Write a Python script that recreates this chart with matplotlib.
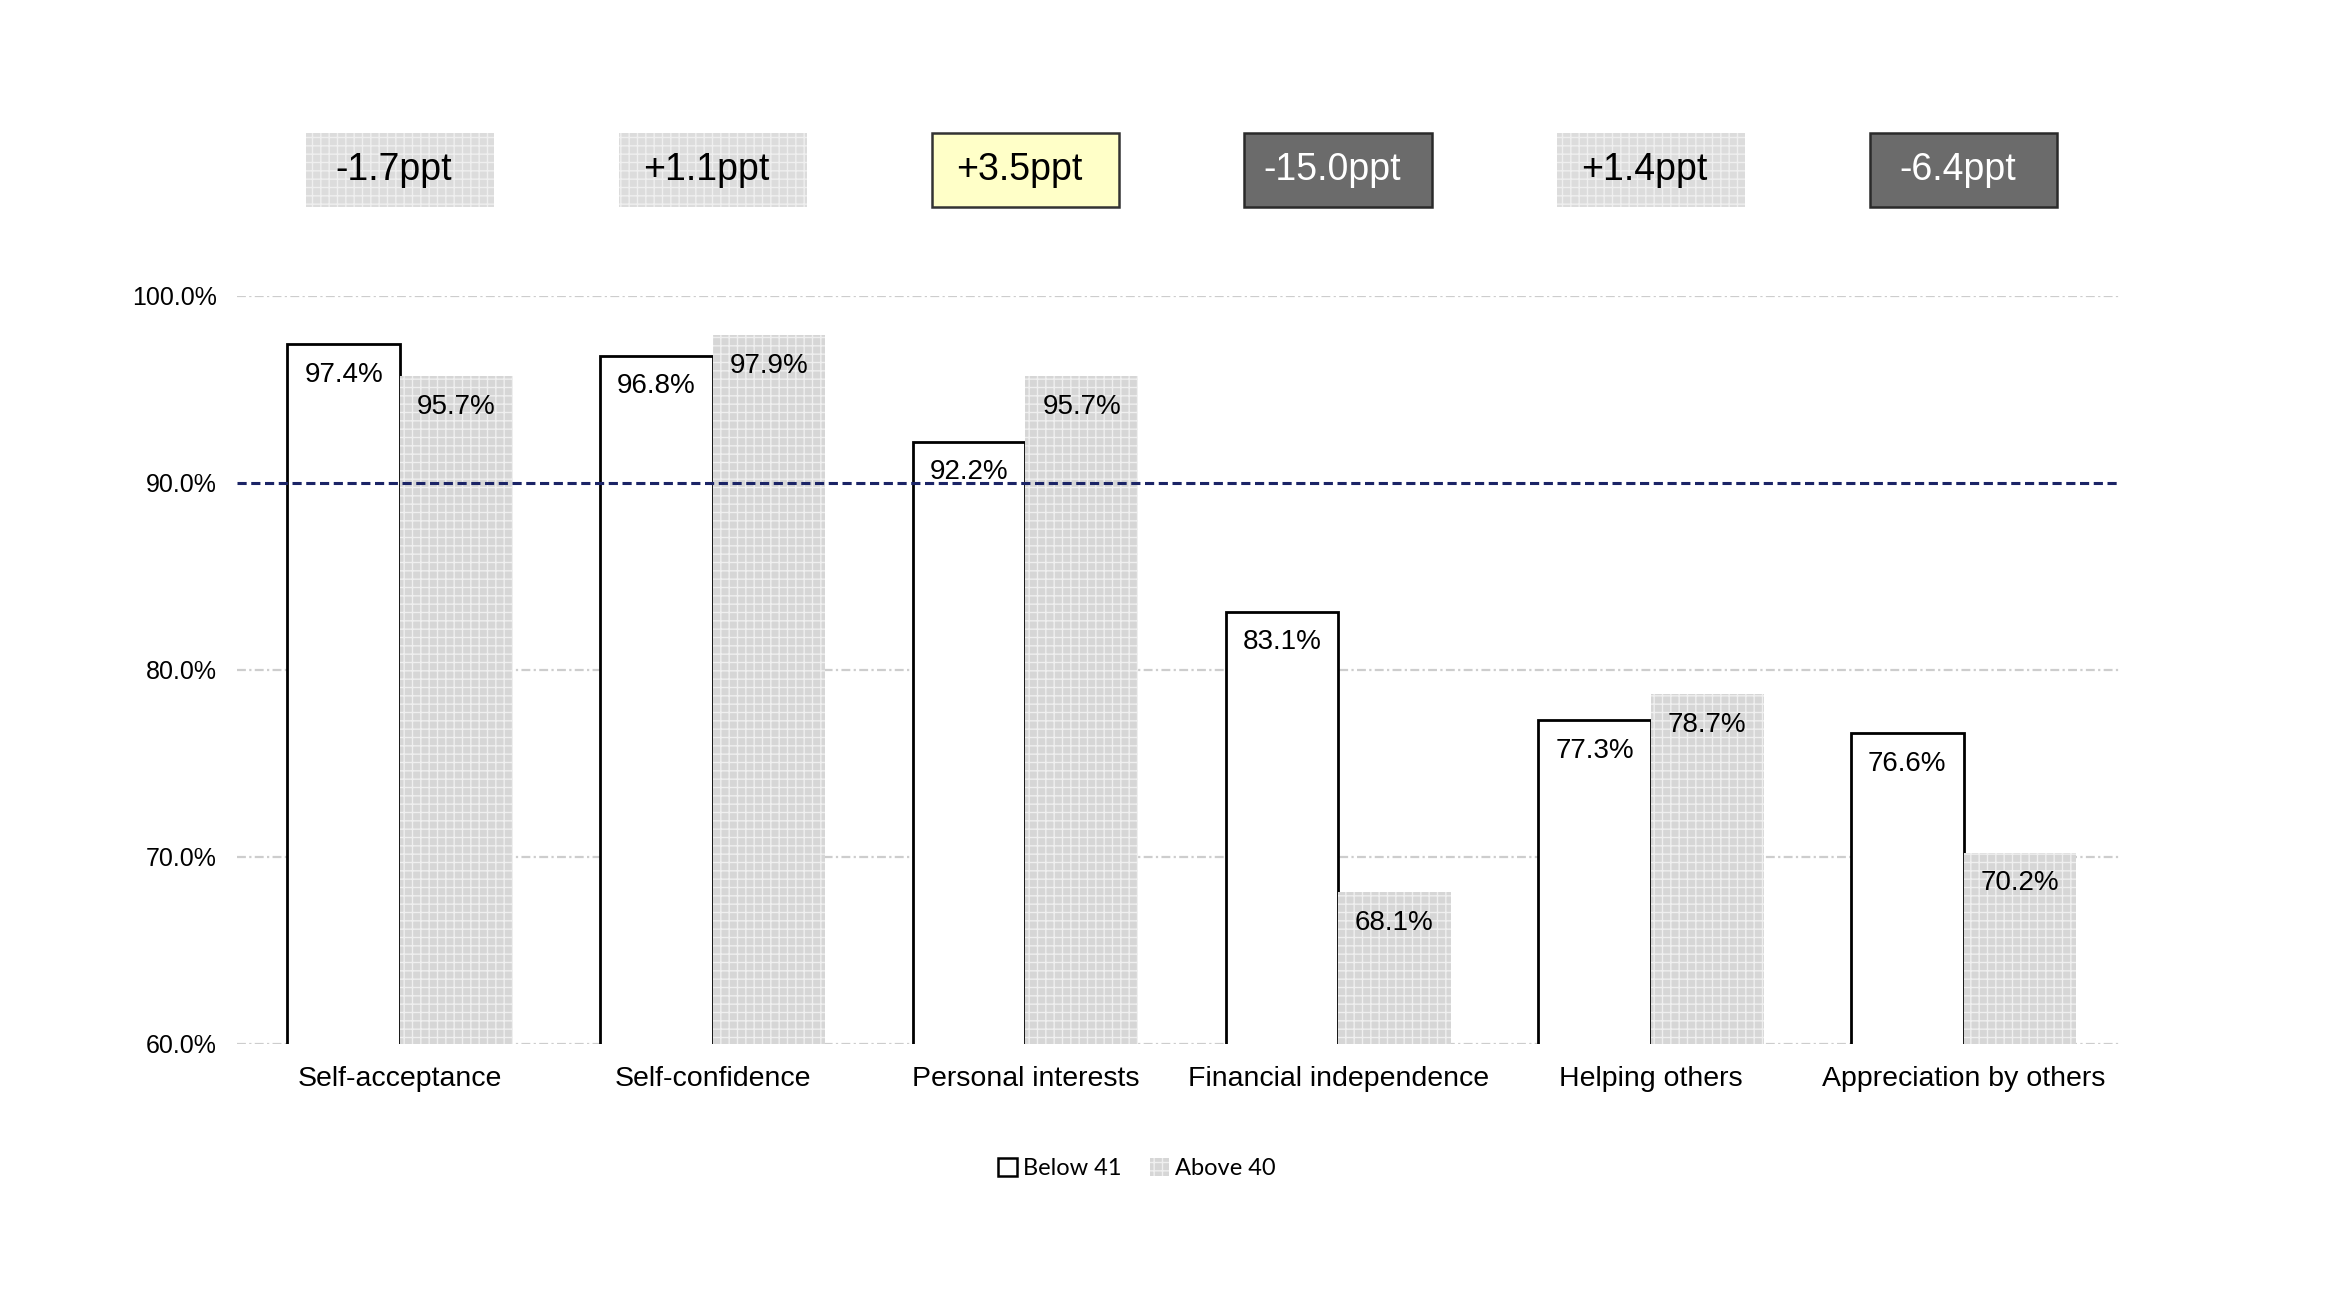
import matplotlib
matplotlib.use("Agg")
import matplotlib.pyplot as plt
from matplotlib.patches import Rectangle, Patch
import matplotlib.transforms as mtransforms
import numpy as np

categories = ["Self-acceptance", "Self-confidence", "Personal interests",
              "Financial independence", "Helping others", "Appreciation by others"]
below_41 = [97.4, 96.8, 92.2, 83.1, 77.3, 76.6]
above_40 = [95.7, 97.9, 95.7, 68.1, 78.7, 70.2]
diff_labels = ["-1.7ppt", "+1.1ppt", "+3.5ppt", "-15.0ppt", "+1.4ppt", "-6.4ppt"]
diff_styles = ["light", "light", "yellow", "dark", "light", "dark"]
yticks = [60, 70, 80, 90, 100]
target_line = 90.0

plt.rcParams['font.family'] = ['Liberation Sans', 'DejaVu Sans']
plt.rcParams['hatch.linewidth'] = 1.0

fig = plt.figure(figsize=(23.32, 12.94), dpi=100)
ax = fig.add_axes([0.1018, 0.1935, 0.8073, 0.578])

x = np.arange(len(categories))
w = 0.36
gray = '#d6d6d6'
hatch_col = '#efefef'

ax.bar(x - w/2, below_41, width=w, color='white', edgecolor='black',
       linewidth=2.0, zorder=3)
ax.bar(x + w/2, above_40, width=w, color=gray, edgecolor=hatch_col,
       hatch='++', linewidth=0, zorder=3)

for xi, v in zip(x - w/2, below_41):
    ax.annotate(f"{v:.1f}%", (xi, v), xytext=(0, -22), textcoords='offset points',
                ha='center', va='center', fontsize=20, zorder=5)
for xi, v in zip(x + w/2, above_40):
    ax.annotate(f"{v:.1f}%", (xi, v), xytext=(0, -22), textcoords='offset points',
                ha='center', va='center', fontsize=20, zorder=5)

ax.set_xlim(-0.52, 5.5)
ax.set_ylim(60, 100)
ax.set_yticks(yticks)
ax.set_yticklabels([f"{t:.1f}%" for t in yticks], fontsize=18)
ax.set_xticks(x)
ax.set_xticklabels(categories, fontsize=20.5)
ax.tick_params(axis='both', length=0)
ax.tick_params(axis='y', pad=15)
ax.tick_params(axis='x', pad=16)
for s in ax.spines.values():
    s.set_visible(False)

for t in yticks:
    if t != target_line:
        ax.axhline(t, color='#cdcdcd', linewidth=1.6, linestyle=(0, (4, 1.5, 1, 1.5)),
                   zorder=1)
ax.axhline(target_line, color='#1b2466', linewidth=2.2, linestyle=(0, (3, 1.5)),
           zorder=4)

trans = mtransforms.blended_transform_factory(ax.transData, ax.transAxes)
bw, bh = 0.6, 0.099
by = 1.119
for xi, lab, st in zip(x, diff_labels, diff_styles):
    if st == 'light':
        rect = Rectangle((xi - bw/2, by), bw, bh, transform=trans, clip_on=False,
                         facecolor='#dcdcdc', edgecolor=hatch_col, hatch='++',
                         linewidth=0)
        tc = 'black'
    elif st == 'yellow':
        rect = Rectangle((xi - bw/2, by), bw, bh, transform=trans, clip_on=False,
                         facecolor='#ffffc8', edgecolor='#333333', linewidth=1.8)
        tc = 'black'
    else:
        rect = Rectangle((xi - bw/2, by), bw, bh, transform=trans, clip_on=False,
                         facecolor='#6b6b6b', edgecolor='#2a2a2a', linewidth=1.8)
        tc = 'white'
    ax.add_patch(rect)
    ax.text(xi - 0.02, by + bh/2, lab, transform=trans, ha='center', va='center',
            fontsize=27, color=tc, clip_on=False)

handles = [Patch(facecolor='white', edgecolor='black', linewidth=1.8, label='Below 41'),
           Patch(facecolor=gray, edgecolor=hatch_col, hatch='++', linewidth=0,
                 label='Above 40')]
fig.legend(handles=handles, loc='center', bbox_to_anchor=(0.4875, 0.097), ncol=2,
           frameon=False, handlelength=0.8, handleheight=0.8,
           handletextpad=0.25, columnspacing=1.2, prop={'family': 'Lato', 'size': 17})

fig.savefig("out.png", dpi=100)
